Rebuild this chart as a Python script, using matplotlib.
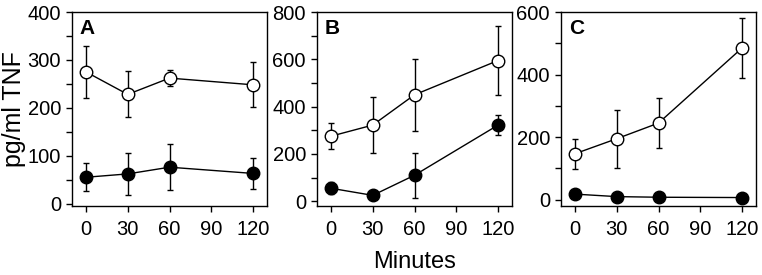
import numpy as np
import matplotlib.pyplot as plt
from matplotlib.ticker import MultipleLocator

plt.rcParams['font.family'] = ['Liberation Sans', 'DejaVu Sans']

minutes = [0, 30, 60, 120]

# panel A
a_open = [275, 228, 262, 248]
a_open_err = [55, 48, 17, 47]
a_fill = [55, 62, 76, 63]
a_fill_err = [29, 43, 48, 32]

# panel B
b_open = [275, 322, 450, 595]
b_open_err = [55, 117, 152, 144]
b_fill = [55, 25, 110, 322]
b_fill_err = [25, 0, 95, 42]

# panel C
c_open = [147, 195, 245, 485]
c_open_err = [48, 93, 80, 95]
c_fill = [18, 10, 8, 7]
c_fill_err = [0, 0, 0, 0]

panels = [
    ("A", a_open, a_open_err, a_fill, a_fill_err, (-5, 400), 100, 50),
    ("B", b_open, b_open_err, b_fill, b_fill_err, (-20, 800), 200, 100),
    ("C", c_open, c_open_err, c_fill, c_fill_err, (-20, 600), 200, 100),
]

fig = plt.figure(figsize=(7.62, 2.75), dpi=100)
lefts = [72, 317, 561]
W, H = 762, 275
for (lab, yo, eo, yf, ef, ylim, major, minor), l in zip(panels, lefts):
    ax = fig.add_axes([l / W, 1 - 206 / H, 195 / W, 194 / H])
    ax.errorbar(minutes, yo, yerr=eo, color='black', lw=1, marker='o',
                ms=9, mfc='white', mec='black', mew=1, capsize=2.5,
                elinewidth=1, capthick=1, zorder=3)
    ax.errorbar(minutes, yf, yerr=ef, color='black', lw=1, marker='o',
                ms=9, mfc='black', mec='black', capsize=2.5,
                elinewidth=1, capthick=1, zorder=3)
    ax.set_xlim(-10, 130)
    ax.set_ylim(*ylim)
    ax.set_xticks([0, 30, 60, 90, 120])
    ax.yaxis.set_major_locator(MultipleLocator(major))
    ax.yaxis.set_minor_locator(MultipleLocator(minor))
    ax.tick_params(direction='out', labelsize=14.5, length=4, width=1, pad=4)
    ax.tick_params(axis='x', pad=6)
    ax.tick_params(which='minor', direction='out', length=4, width=1)
    for s in ax.spines.values():
        s.set_linewidth(1)
    ax.text(0.04, 0.965, lab, transform=ax.transAxes, fontsize=15,
            fontweight='bold', va='top', ha='left')
    if lab == "A":
        ax.set_ylabel("pg/ml TNF", fontsize=18, labelpad=1)
    if lab == "B":
        ax.set_xlabel("Minutes", fontsize=17, labelpad=9)

fig.savefig("out.png", dpi=100)
